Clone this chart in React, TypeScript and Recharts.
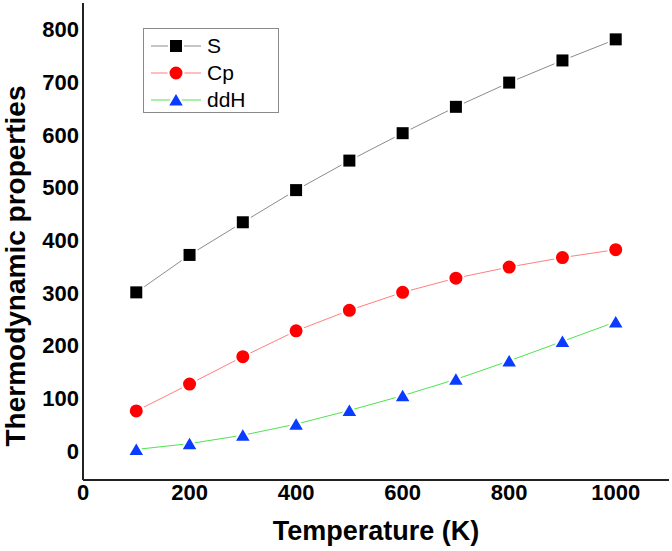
import { LineChart, Line, XAxis, YAxis, Legend, Label } from 'recharts';

const temperature = [100, 200, 300, 400, 500, 600, 700, 800, 900, 1000];
const entropyS = [301, 372, 434, 495, 551, 603, 653, 699, 741, 781];
const heatCapacityCp = [76, 127, 179, 228, 267, 301, 328, 349, 367, 382];
const enthalpyDdH = [3, 14, 30, 51, 77, 105, 136, 171, 208, 245];

const xTicks = [0, 200, 400, 600, 800, 1000];
const yTicks = [0, 100, 200, 300, 400, 500, 600, 700, 800];

const data = temperature.map((t, i) => ({
  t,
  S: entropyS[i],
  Cp: heatCapacityCp[i],
  ddH: enthalpyDdH[i],
}));

const FONT = '"Liberation Sans", Arial, sans-serif';
const AXIS = '#222';

type Kind = 'square' | 'circle' | 'triangle';

const series: { key: string; line: string; fill: string; kind: Kind }[] = [
  { key: 'S', line: '#8c8c8c', fill: '#000000', kind: 'square' },
  { key: 'Cp', line: '#ff7f7f', fill: '#ff0000', kind: 'circle' },
  { key: 'ddH', line: '#4ee44e', fill: '#0a3cff', kind: 'triangle' },
];

function Marker({ kind, cx, cy, fill }: { kind: Kind; cx: number; cy: number; fill: string }) {
  if (kind === 'square') {
    return <rect x={cx - 7} y={cy - 7} width={14} height={14} fill={fill} stroke="#fff" strokeWidth={2} />;
  }
  if (kind === 'circle') {
    return <circle cx={cx} cy={cy} r={7.5} fill={fill} stroke="#fff" strokeWidth={2} />;
  }
  return (
    <polygon
      points={`${cx},${cy - 8} ${cx + 8.5},${cy + 6.5} ${cx - 8.5},${cy + 6.5}`}
      fill={fill}
      stroke="#fff"
      strokeWidth={2}
    />
  );
}

function makeDot(kind: Kind, fill: string) {
  return (p: any) => (
    <Marker key={`${kind}-${p.index}`} kind={kind} cx={p.cx} cy={p.cy} fill={fill} />
  );
}

function LegendBox() {
  return (
    <div
      style={{
        border: '1px solid #8a8a8a',
        background: '#fff',
        width: 136,
        height: 85,
        boxSizing: 'border-box',
        paddingTop: 3,
        fontFamily: FONT,
      }}
    >
      {series.map((s) => (
        <div key={s.key} style={{ display: 'flex', alignItems: 'center', height: 27 }}>
          <svg width={57} height={20} style={{ marginLeft: 6 }}>
            <line x1={1} y1={10} x2={51} y2={10} stroke={s.line} strokeWidth={1} />
            <Marker kind={s.kind} cx={26} cy={10} fill={s.fill} />
          </svg>
          <span style={{ fontSize: 21, color: '#000', lineHeight: '20px' }}>{s.key}</span>
        </div>
      ))}
    </div>
  );
}

function YTitle() {
  return (
    <text
      transform="translate(15.5, 266) rotate(-90)"
      textAnchor="middle"
      dy="0.355em"
      fill="#000"
      fontSize={28}
      fontWeight="bold"
      fontFamily={FONT}
    >
      Thermodynamic properties
    </text>
  );
}

export default function App() {
  return (
    <div style={{ position: 'absolute', left: 0, top: 0, width: 672, height: 551, background: '#fff' }}>
      <LineChart width={672} height={551} data={data} margin={{ top: 3, right: 3, bottom: 0, left: 0 }}>
        <XAxis
          dataKey="t"
          type="number"
          domain={[0, 1100]}
          ticks={xTicks}
          height={71}
          tickSize={0}
          tickMargin={4}
          axisLine={{ stroke: AXIS, strokeWidth: 2 }}
          tick={{ fill: '#000', fontSize: 22, fontWeight: 'bold', fontFamily: FONT }}
        >
          <Label
            value="Temperature (K)"
            position="insideBottom"
            offset={11}
            style={{ fill: '#000', fontSize: 27, fontWeight: 'bold', fontFamily: FONT }}
          />
        </XAxis>
        <XAxis
          xAxisId="top"
          orientation="top"
          type="number"
          domain={[0, 1100]}
          height={0}
          tick={false}
          tickLine={false}
          axisLine={{ stroke: AXIS, strokeWidth: 2 }}
        />
        <YAxis
          type="number"
          domain={[-55, 850]}
          ticks={yTicks}
          width={83}
          tickSize={0}
          tickMargin={4}
          axisLine={{ stroke: AXIS, strokeWidth: 2 }}
          tick={{ fill: '#000', fontSize: 22, fontWeight: 'bold', fontFamily: FONT }}
        >
          <Label content={() => <YTitle />} />
        </YAxis>
        <YAxis
          yAxisId="right"
          orientation="right"
          type="number"
          domain={[-55, 850]}
          width={0}
          tick={false}
          tickLine={false}
          axisLine={{ stroke: AXIS, strokeWidth: 2 }}
        />
        <Legend
          layout="vertical"
          align="center"
          verticalAlign="middle"
          content={() => <LegendBox />}
          wrapperStyle={{ left: 143, top: 28, width: 136 }}
        />
        {series.map((s) => (
          <Line
            key={s.key}
            dataKey={s.key}
            type="linear"
            stroke={s.line}
            strokeWidth={1}
            dot={makeDot(s.kind, s.fill)}
            activeDot={false}
            isAnimationActive={false}
          />
        ))}
      </LineChart>
    </div>
  );
}
